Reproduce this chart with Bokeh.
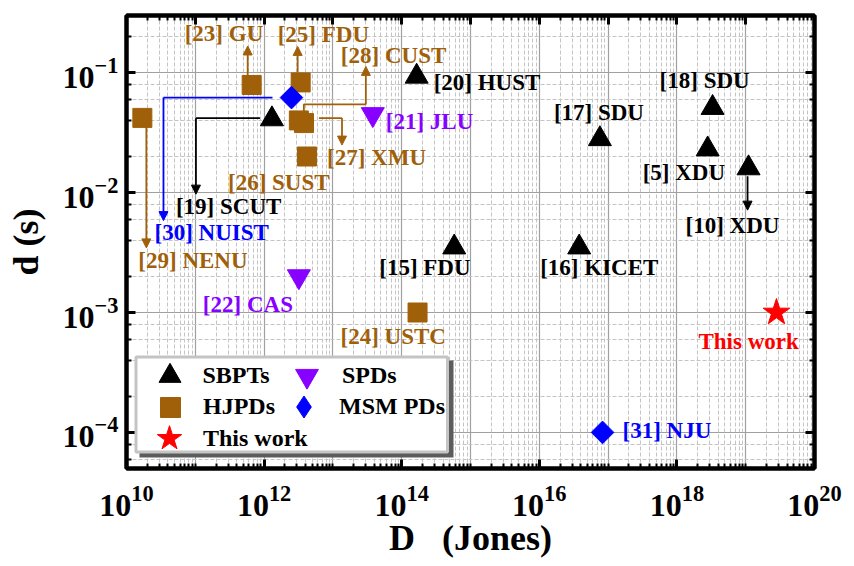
import math
from bokeh.plotting import figure
from bokeh.models import (ColumnDataSource, FixedTicker, LogTicker, LogAxis, LogTickFormatter,
                          Legend, LegendItem, Arrow, NormalHead, Range1d, BoxAnnotation)
from bokeh.core.properties import value
from bokeh.embed import file_html
from bokeh.resources import INLINE

# ---------------- data ----------------
sbpt_labels = ["[19] SCUT", "[20] HUST", "[15] FDU", "[16] KICET", "[17] SDU", "[18] SDU", "[5] XDU", "[10] XDU"]
sbpt_D = [1.3e12, 1.65e14, 5.8e14, 3.8e16, 7.6e16, 3.3e18, 2.8e18, 1.1e19]
sbpt_t = [0.041, 0.093, 0.0035, 0.0035, 0.028, 0.051, 0.023, 0.016]

hjpd_labels = ["[29] NENU", "[23] GU", "[25] FDU", "[28] CUST", "[27] XMU", "[26] SUST", "[24] USTC"]
hjpd_D = [1.7e10, 6.6e11, 3.4e12, 3.2e12, 3.8e12, 4.2e12, 1.7e14]
hjpd_t = [0.042, 0.079, 0.083, 0.040, 0.038, 0.020, 0.001]

spd_labels = ["[21] JLU", "[22] CAS"]
spd_D = [3.8e13, 3.2e12]
spd_t = [0.045, 0.002]

msm_labels = ["[30] NUIST", "[31] NJU"]
msm_D = [2.5e12, 8.3e16]
msm_t = [0.062, 1.0e-4]

work_labels = ["This work"]
work_D = [2.8e19]
work_t = [1.0e-3]

x_ticks = [10.0 ** k for k in range(10, 21)]
x_labelled = [10.0 ** k for k in range(10, 21, 2)]

# ---------------- layout / style ----------------
W, H = 850, 566
BL, BT = 126, 15
FR, FB = 814, 468          # frame right / bottom on the canvas
BR, BB = W - FR, H - FB
X0, X1 = 1e10, 1e20
Y0, Y1 = 5e-5, 0.3
FW, FH = FR - BL, FB - BT
KX = FW / (math.log10(X1) - math.log10(X0))
KY = FH / (math.log10(Y1) - math.log10(Y0))

FONT = "Liberation Serif"
BLACK, BROWN, PURPLE, BLUE, RED = "#000000", "#A0600A", "#8800FF", "#0000FF", "#FF0000"

# label offsets (screen px: right, down) relative to each point
label_offsets = {
    "[29] NENU": (-4, 143), "[30] NUIST": (-137, 135), "[19] SCUT": (-96, 87),
    "[26] SUST": (-79, 26), "[27] XMU": (23, 34), "[28] CUST": (42, -65),
    "[23] GU": (-67, -51), "[25] FDU": (-23, -48), "[21] JLU": (13, 7),
    "[20] HUST": (17, 6), "[17] SDU": (-46, -26), "[18] SDU": (-53, -27),
    "[5] XDU": (-65, 23), "[10] XDU": (-63, 57), "[16] KICET": (-39, 20),
    "[15] FDU": (-75, 20), "[22] CAS": (-96, 28), "[24] USTC": (-77, 24),
    "This work": (-78, 29), "[31] NJU": (20, -2),
}

# connector paths (screen px offsets: right, down) relative to a point; last segment has arrow head
connectors = [
    ("[29] NENU", BROWN, [(4, 9), (4, 130)]),
    ("[23] GU", BROWN, [(-4, -10), (-4, -39)]),
    ("[25] FDU", BROWN, [(-3, -10), (-3, -36)]),
    ("[28] CUST", BROWN, [(5, -6), (5, -16), (67, -16), (67, -54)]),
    ("[27] XMU", BROWN, [(15, -5), (38, -5), (38, 22)]),
    ("[30] NUIST", BLUE, [(-19, 0), (-128, 0), (-128, 123)]),
    ("[19] SCUT", BLACK, [(-12, -1), (-76, -1), (-76, 75)]),
    ("[10] XDU", BLACK, [(-1, 8), (-1, 42)]),
]


def shift(x, y, dx, dy):
    return x * 10 ** (dx / KX), y * 10 ** (-dy / KY)


def canvas_to_data(px, py):
    return (10 ** (math.log10(X0) + (px - BL) / KX), 10 ** (math.log10(Y1) - (py - BT) / KY))


p = figure(width=W, height=H, x_axis_type="log", y_axis_type="log",
           x_range=Range1d(X0, X1), y_range=Range1d(Y0, Y1),
           output_backend="svg", toolbar_location=None,
           min_border_left=BL, min_border_right=BR, min_border_top=BT, min_border_bottom=BB)
p.background_fill_color = "white"
p.border_fill_color = "white"
p.outline_line_color = "black"
p.outline_line_width = 4

bottom_axis = p.below[0]
left_axis = p.left[0]

minor_x = [m * 10.0 ** k for k in range(10, 20) for m in range(2, 10)]
xt = FixedTicker(ticks=x_ticks, minor_ticks=minor_x)
xt_bottom = FixedTicker(ticks=x_labelled,
                        minor_ticks=sorted(minor_x + [t for t in x_ticks if t not in x_labelled]))
yt = LogTicker()

bottom_axis.ticker = xt_bottom
left_axis.ticker = yt
p.xgrid.ticker = xt
p.ygrid.ticker = yt

for g in (p.xgrid, p.ygrid):
    g.grid_line_color = "#a0a0a0"
    g.grid_line_width = 1.2
    g.minor_grid_line_color = "#c4c4c4"
    g.minor_grid_line_dash = "4 2"
    g.minor_grid_line_width = 1

top_axis = LogAxis(ticker=xt, formatter=LogTickFormatter())
right_axis = LogAxis(ticker=yt, formatter=LogTickFormatter())
p.add_layout(top_axis, "above")
p.add_layout(right_axis, "right")

for ax in (bottom_axis, left_axis, top_axis, right_axis):
    ax.axis_line_width = 4
    ax.axis_line_color = "black"
    ax.major_tick_line_width = 3
    ax.minor_tick_line_width = 2
    ax.major_tick_line_color = "black"
    ax.minor_tick_line_color = "black"
    ax.major_tick_in = 9
    ax.major_tick_out = 0
    ax.minor_tick_in = 5
    ax.minor_tick_out = 0
    ax.major_label_text_font = FONT
    ax.major_label_text_font_style = "bold"
    ax.major_label_text_font_size = "32px"
    ax.major_label_text_color = "black"

for ax in (top_axis, right_axis):
    ax.major_label_text_font_size = "1px"
    ax.major_label_text_alpha = 0
    ax.major_label_standoff = 0

bottom_axis.major_label_standoff = 17
left_axis.major_label_standoff = 8

for ax in (bottom_axis, left_axis):
    ax.axis_label_text_font = FONT
    ax.axis_label_text_font_style = "bold"
    ax.axis_label_text_font_size = "36px"
    ax.axis_label_text_color = "black"

left_axis.axis_label = "d (s)"
left_axis.axis_label_standoff = 14
bottom_axis.axis_label = "D\u00a0\u00a0 (Jones)"
bottom_axis.axis_label_standoff = -1

# ---------------- connectors ----------------
all_points = {}
for labs, xs, ys in ((sbpt_labels, sbpt_D, sbpt_t), (hjpd_labels, hjpd_D, hjpd_t),
                     (spd_labels, spd_D, spd_t), (msm_labels, msm_D, msm_t),
                     (work_labels, work_D, work_t)):
    for l, x, y in zip(labs, xs, ys):
        all_points[l] = (x, y)

for lab, col, path in connectors:
    x, y = all_points[lab]
    pts = [shift(x, y, dx, dy) for dx, dy in path]
    if len(pts) > 2:
        p.line([q[0] for q in pts[:-1]], [q[1] for q in pts[:-1]], line_color=col, line_width=1.8)
    (xs_, ys_), (xe, ye) = pts[-2], pts[-1]
    p.add_layout(Arrow(end=NormalHead(size=9, fill_color=col, line_color=col, line_width=1),
                       x_start=xs_, y_start=ys_, x_end=xe, y_end=ye,
                       line_color=col, line_width=1.8))

# ---------------- markers ----------------
r_hjpd = p.scatter(hjpd_D, hjpd_t, marker="square", size=19, fill_color=BROWN, line_color=BROWN)
r_sbpt = p.scatter(sbpt_D, sbpt_t, marker="triangle", size=23, fill_color=BLACK, line_color=BLACK)
r_spd = p.scatter(spd_D, spd_t, marker="inverted_triangle", size=23, fill_color=PURPLE, line_color=PURPLE)
# legend proxy (hidden beneath the rotated squares)
r_msm_leg = p.scatter(msm_D, msm_t, marker="diamond", size=16, fill_color=BLUE, line_color=BLUE)
r_msm = p.scatter(msm_D, msm_t, marker="square", angle=math.pi / 4, size=16, fill_color=BLUE, line_color=BLUE)
r_work = p.scatter(work_D, work_t, marker="star", size=28, fill_color=RED, line_color=RED)

# ---------------- point labels ----------------
lx, ly, lt, ldx, ldy, lc = [], [], [], [], [], []
for labs, xs, ys, col in ((sbpt_labels, sbpt_D, sbpt_t, BLACK), (hjpd_labels, hjpd_D, hjpd_t, BROWN),
                          (spd_labels, spd_D, spd_t, PURPLE), (msm_labels, msm_D, msm_t, BLUE),
                          (work_labels, work_D, work_t, RED)):
    for l, x, y in zip(labs, xs, ys):
        dx, dy = label_offsets[l]
        lx.append(x); ly.append(y); lt.append(l); ldx.append(dx); ldy.append(dy); lc.append(col)
lab_src = ColumnDataSource(dict(x=lx, y=ly, text=lt, dx=ldx, dy=ldy, color=lc))
p.text(x="x", y="y", text="text", x_offset="dx", y_offset="dy", text_color="color", source=lab_src,
       text_font=value(FONT), text_font_style="bold", text_font_size="23px",
       text_baseline="middle", text_align="left")

# ---------------- legend box (with shadow) ----------------
sl, st = canvas_to_data(139, 360)
sr, sb = canvas_to_data(453, 457)
p.add_layout(BoxAnnotation(left=sl, right=sr, top=st, bottom=sb, fill_color="#5c5c5c", fill_alpha=1.0,
                           line_alpha=0))
bl_, bt_ = canvas_to_data(135.5, 356.5)
br_, bb_ = canvas_to_data(447, 451.5)
p.add_layout(BoxAnnotation(left=bl_, right=br_, top=bt_, bottom=bb_, fill_color="white", fill_alpha=1.0,
                           line_color="#c4c4c4", line_width=3, line_alpha=1.0))

# legend entries: label, renderer, glyph centre on canvas, glyph box, label standoff
legend_specs = [
    ("SBPTs", r_sbpt, (169, 375), 55, 6),
    ("HJPDs", r_hjpd, (170, 406.5), 50, 8),
    ("This work", r_work, (169, 438), 64, 2),
    ("SPDs", r_spd, (306.5, 375), 57, 7),
    ("MSM PDs", r_msm_leg, (303.5, 406.5), 55, 8),
]
for lab, rend, (cx, cy), gbox, stand in legend_specs:
    p.add_layout(Legend(items=[LegendItem(label=lab, renderers=[rend])],
                        location=(cx - BL - gbox / 2, FB - cy - gbox / 2),
                        glyph_width=gbox, glyph_height=gbox, padding=0, spacing=0, margin=0,
                        label_standoff=stand, label_text_font=FONT, label_text_font_style="bold",
                        label_text_font_size="24px", label_text_color="black",
                        border_line_alpha=0, background_fill_alpha=0))

open("out.html", "w").write(file_html(p, INLINE))
